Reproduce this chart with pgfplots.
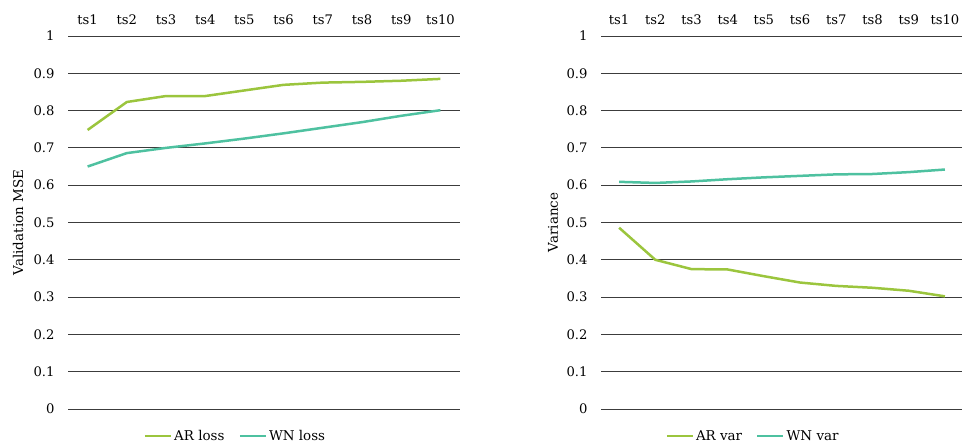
\documentclass[border=0pt]{standalone}
\usepackage{fontspec}
\setmainfont{DejaVu Serif}
\usepackage{pgfplots}
\pgfplotsset{compat=1.18}
\definecolor{arcol}{RGB}{155,197,61}
\definecolor{wncol}{RGB}{78,193,160}
\definecolor{gridcol}{RGB}{60,60,60}
\pgfplotsset{
  myaxis/.style={
    scale only axis,
    height=373bp,
    xmin=0.5, xmax=10.5,
    ymin=0, ymax=1,
    xtick={1,...,10},
    xticklabels={ts1,ts2,ts3,ts4,ts5,ts6,ts7,ts8,ts9,ts10},
    xticklabel pos=upper,
    ytick={0,0.1,...,1.0},
    yticklabels={0,0.1,0.2,0.3,0.4,0.5,0.6,0.7,0.8,0.9,1},
    major tick length=0pt,
    axis line style={draw=none},
    ymajorgrids,
    grid style={gridcol, line width=0.9bp},
    tick label style={font=\fontsize{13.2}{15}\selectfont, black},
    yticklabel style={xshift=-10bp},
    xticklabel style={yshift=8bp},
    /pgf/number format/assume math mode=true,
    ylabel style={font=\fontsize{13.5}{15}\selectfont, at={(rel axis cs:0,0.5)}, anchor=center},
    legend columns=2,
    legend style={draw=none, fill=none, font=\fontsize{13.5}{16}\selectfont,
      anchor=center, /tikz/every even column/.append style={column sep=12bp},
      inner sep=0pt},
    legend image code/.code={\draw[#1, line width=2.5bp] (0bp,0bp) -- (26bp,0bp);},
    every axis plot/.append style={line width=2.5bp, mark=none},
    clip=false,
  }
}
\begin{document}
\begin{tikzpicture}[x=1bp,y=1bp]
\useasboundingbox (0,0) rectangle (962,447);
\begin{axis}[myaxis,
  width=392bp,
  at={(68bp,38bp)}, anchor=south west,
  ylabel={Validation MSE},
  ylabel style={yshift=50bp},
  legend style={at={(rel axis cs:0.427,0)}, yshift=-27bp},
]
\addplot[arcol] coordinates {(1,0.748) (2,0.823) (3,0.839) (4,0.839) (5,0.854) (6,0.869) (7,0.875) (8,0.877) (9,0.880) (10,0.885)};
\addlegendentry{AR loss}
\addplot[wncol] coordinates {(1,0.650) (2,0.686) (3,0.700) (4,0.712) (5,0.725) (6,0.739) (7,0.754) (8,0.769) (9,0.786) (10,0.801)};
\addlegendentry{WN loss}
\end{axis}
\begin{axis}[myaxis,
  width=362bp,
  at={(601bp,38bp)}, anchor=south west,
  ylabel={Variance},
  ylabel style={yshift=48bp},
  legend style={at={(rel axis cs:0.42,0)}, yshift=-27bp},
]
\addplot[arcol] coordinates {(1,0.486) (2,0.400) (3,0.375) (4,0.374) (5,0.356) (6,0.339) (7,0.330) (8,0.325) (9,0.317) (10,0.302)};
\addlegendentry{AR var}
\addplot[wncol] coordinates {(1,0.609) (2,0.606) (3,0.610) (4,0.616) (5,0.621) (6,0.625) (7,0.629) (8,0.630) (9,0.635) (10,0.642)};
\addlegendentry{WN var}
\end{axis}
\end{tikzpicture}
\end{document}
